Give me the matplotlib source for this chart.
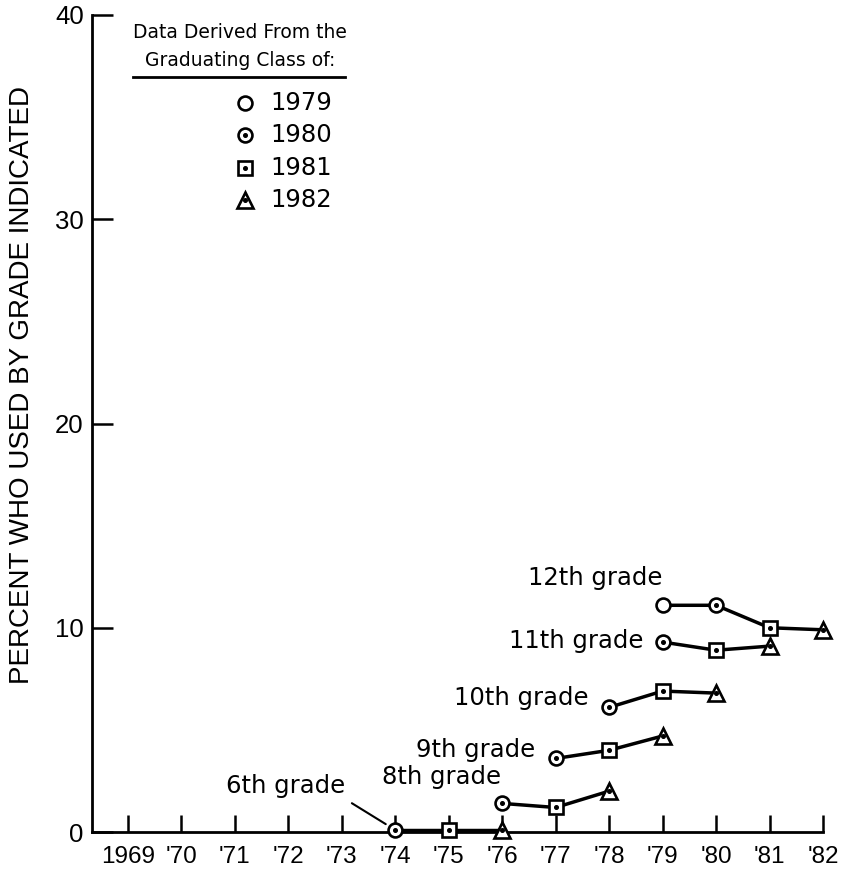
import matplotlib
matplotlib.use('Agg')
import matplotlib.pyplot as plt
from matplotlib.lines import Line2D

# Eixo x: anos
anos = list(range(1969, 1983))
rotulos_x = ['1969'] + ["'%02d" % (a % 100) for a in anos[1:]]
ticks_y = [0, 10, 20, 30, 40]

# Turmas de formatura (legenda)
turmas = [1979, 1980, 1981, 1982]

# Dados por serie escolar (ano, percentual, turma)
anos_12 = [1979, 1980, 1981, 1982]
valores_12 = [11.1, 11.1, 10.0, 9.9]
turmas_12 = [1979, 1980, 1981, 1982]

anos_11 = [1979, 1980, 1981]
valores_11 = [9.3, 8.9, 9.1]
turmas_11 = [1980, 1981, 1982]

anos_10 = [1978, 1979, 1980]
valores_10 = [6.1, 6.9, 6.8]
turmas_10 = [1980, 1981, 1982]

anos_9 = [1977, 1978, 1979]
valores_9 = [3.6, 4.0, 4.7]
turmas_9 = [1980, 1981, 1982]

anos_8 = [1976, 1977, 1978]
valores_8 = [1.4, 1.2, 2.0]
turmas_8 = [1980, 1981, 1982]

anos_6 = [1974, 1975, 1976]
valores_6 = [0.1, 0.1, 0.1]
turmas_6 = [1980, 1981, 1982]

series = [
    ('12th grade', anos_12, valores_12, turmas_12),
    ('11th grade', anos_11, valores_11, turmas_11),
    ('10th grade', anos_10, valores_10, turmas_10),
    ('9th grade', anos_9, valores_9, turmas_9),
    ('8th grade', anos_8, valores_8, turmas_8),
    ('6th grade', anos_6, valores_6, turmas_6),
]

# estilo dos marcadores por turma: (marcador, tamanho, ponto central)
estilo = {
    1979: ('o', 10, False),
    1980: ('o', 10, True),
    1981: ('s', 9.5, True),
    1982: ('^', 11.5, True),
}

# deslocamento dos rotulos (em pontos) em relacao ao primeiro ponto
desloc = {
    '12th grade': (0, 20),
    '11th grade': (-14, 1),
    '10th grade': (-15, 7),
    '9th grade': (-15, 6),
    '8th grade': (-1, 19),
}

FONTE = 'DejaVu Sans'
FONTE_EIXO = 'Liberation Sans'


def marcador(ax, x, y, turma, **kw):
    m, ms, ponto = estilo[turma]
    ax.plot([x], [y], marker=m, ms=ms, mfc='white', mec='black', mew=1.9,
            linestyle='none', zorder=4, clip_on=False, **kw)
    if ponto:
        ax.plot([x], [y], marker='o', ms=2.6, color='black', linestyle='none',
                zorder=5, clip_on=False, **kw)


fig = plt.figure(figsize=(8.43, 8.73), dpi=100)
W, H = 843, 873
ax = fig.add_axes([92 / W, (H - 832) / H, 731 / W, 817 / H])

for nome, xs, ys, ts in series:
    ax.plot(xs, ys, color='black', lw=2.5, zorder=3, clip_on=False)
    for x, y, t in zip(xs, ys, ts):
        marcador(ax, x, y, t)
    if nome in desloc:
        ax.annotate(nome, (xs[0], ys[0]), xytext=desloc[nome],
                    textcoords='offset points', ha='right', va='center',
                    fontsize=17.5, family=FONTE)
    else:
        ax.annotate(nome, (xs[0], ys[0]), xytext=(-79, 32),
                    textcoords='offset points', ha='center', va='center',
                    fontsize=17.5, family=FONTE,
                    arrowprops=dict(arrowstyle='-', color='black', lw=1.5,
                                    relpos=(0.98, 0.0), shrinkA=4, shrinkB=8))

ax.set_xlim(1968.33, 1982)
ax.set_ylim(0, 40)
ax.set_xticks(anos)
ax.set_xticklabels(rotulos_x, family=FONTE_EIXO, fontsize=17.5)
ax.set_yticks(ticks_y)
ax.set_yticklabels([str(v) for v in ticks_y], family=FONTE_EIXO, fontsize=18.5)
ax.tick_params(axis='x', direction='in', length=12, width=1.8, pad=10)
ax.tick_params(axis='y', direction='in', length=15, width=1.8, pad=6)
for lado in ['top', 'right']:
    ax.spines[lado].set_visible(False)
ax.spines['left'].set_linewidth(2.0)
ax.spines['bottom'].set_linewidth(2.0)
ax.patch.set_visible(False)

fig.text(22 / W, 1 - 385 / H, 'PERCENT WHO USED BY GRADE INDICATED',
         rotation=90, ha='center', va='center', fontsize=20, family=FONTE_EIXO)

# Legenda desenhada a mao
fig.text(240 / W, 1 - 33 / H, 'Data Derived From the', ha='center', va='center',
         fontsize=13.5, family=FONTE)
fig.text(240 / W, 1 - 60 / H, 'Graduating Class of:', ha='center', va='center',
         fontsize=13.5, family=FONTE)
fig.add_artist(Line2D([133 / W, 345 / W], [1 - 77 / H, 1 - 77 / H],
                      color='black', lw=2.0, transform=fig.transFigure))
linhas_leg = [103, 135, 168, 200]
for t, yp in zip(turmas, linhas_leg):
    marcador(ax, 245 / W, 1 - yp / H, t, transform=fig.transFigure)
    fig.text(270 / W, 1 - yp / H, str(t), ha='left', va='center',
             fontsize=17.5, family=FONTE)

fig.savefig('out.png', dpi=100)
